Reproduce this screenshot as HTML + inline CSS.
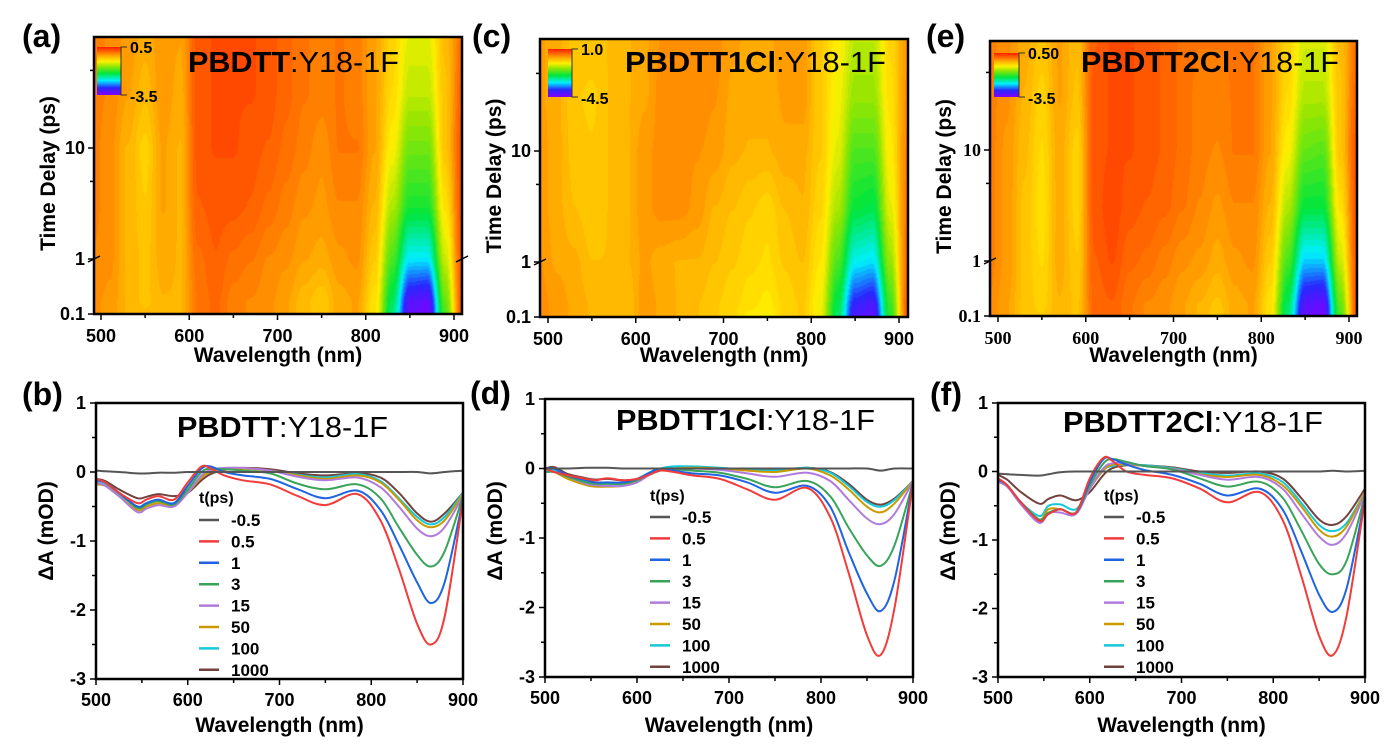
<!DOCTYPE html>
<html><head><meta charset="utf-8">
<style>
html,body{margin:0;padding:0;background:#fff;}
#root{position:relative;width:1385px;height:745px;overflow:hidden;font-family:"Liberation Sans",Arial,sans-serif;}
canvas{position:absolute;}
svg{position:absolute;left:0;top:0;}
</style></head>
<body>
<div id="root">
<canvas id="hmA"></canvas>
<canvas id="hmC"></canvas>
<canvas id="hmE"></canvas>
<svg id="svg" width="1385" height="745" xmlns="http://www.w3.org/2000/svg">
<defs>
<linearGradient id="cbar" x1="0" y1="0" x2="0" y2="1">
<stop offset="0" stop-color="rgb(255,30,0)"/><stop offset="0.12" stop-color="rgb(255,120,0)"/>
<stop offset="0.2" stop-color="rgb(255,180,0)"/><stop offset="0.3" stop-color="rgb(255,240,0)"/>
<stop offset="0.4" stop-color="rgb(150,230,0)"/><stop offset="0.55" stop-color="rgb(0,230,60)"/>
<stop offset="0.7" stop-color="rgb(0,240,255)"/><stop offset="0.85" stop-color="rgb(40,40,255)"/>
<stop offset="1" stop-color="rgb(130,0,255)"/>
</linearGradient>
</defs>
</svg>
</div>
<script>
// ---------- heatmap data ----------
const hmWl=[490,510,530,550,570,590,610,630,650,670,690,710,730,750,770,790,810,830,850,870,890,910];
const hmT=[0.1,0.3,1,3,10,30,100];
const hmValsA=[
[-0.1,-0.15,-0.3,-0.35,-0.3,-0.3,0.05,0.15,0.0,-0.05,-0.1,-0.2,-0.35,-0.45,-0.25,-0.2,-0.6,-1.9,-3.3,-3.4,-1.4,0.3],
[-0.1,-0.15,-0.3,-0.4,-0.3,-0.3,0.05,0.15,0.0,-0.05,-0.1,-0.2,-0.35,-0.45,-0.25,-0.2,-0.6,-1.8,-3.2,-3.3,-1.3,0.3],
[-0.05,-0.1,-0.3,-0.4,-0.25,-0.3,0.1,0.2,0.1,0.05,-0.05,-0.1,-0.2,-0.25,-0.15,-0.1,-0.45,-1.4,-2.3,-2.3,-0.9,0.3],
[0.0,-0.1,-0.3,-0.45,-0.2,-0.3,0.2,0.25,0.25,0.2,0.1,0.0,-0.1,-0.15,-0.05,-0.05,-0.3,-1.0,-1.6,-1.6,-0.6,0.3],
[0.0,-0.1,-0.3,-0.5,-0.2,-0.3,0.25,0.3,0.3,0.25,0.2,0.1,0.0,-0.1,0.05,0.05,-0.2,-0.7,-1.25,-1.25,-0.4,0.3],
[0.0,-0.05,-0.2,-0.35,-0.15,-0.25,0.25,0.3,0.3,0.3,0.25,0.15,0.05,0.0,0.05,0.0,-0.2,-0.55,-0.95,-0.95,-0.4,0.2],
[0.0,-0.05,-0.15,-0.25,-0.15,-0.2,0.25,0.3,0.3,0.3,0.25,0.15,0.05,0.0,0.05,0.0,-0.2,-0.5,-0.8,-0.8,-0.35,0.1]];
const hmValsC=[
[0.2,0.1,0.0,-0.1,-0.2,-0.2,0.1,0.0,-0.1,-0.2,-0.3,-0.4,-0.6,-0.7,-0.4,-0.3,-0.7,-2.2,-4.0,-4.2,-1.8,0.6],
[0.2,0.1,0.0,-0.1,-0.2,-0.2,0.1,0.0,-0.1,-0.2,-0.3,-0.4,-0.5,-0.6,-0.4,-0.3,-0.7,-2.1,-3.8,-4.0,-1.7,0.6],
[0.15,0.0,-0.05,-0.2,-0.2,-0.1,0.05,-0.05,-0.1,-0.1,-0.2,-0.3,-0.4,-0.45,-0.3,-0.2,-0.55,-1.6,-2.8,-2.9,-1.2,0.5],
[0.1,-0.05,-0.2,-0.3,-0.2,-0.1,0.1,0.2,0.2,0.1,-0.1,-0.2,-0.3,-0.4,-0.2,-0.1,-0.4,-1.1,-2.0,-2.1,-0.8,0.4],
[0.1,-0.05,-0.25,-0.3,-0.2,-0.1,0.1,0.2,0.2,0.15,0.1,-0.05,-0.1,-0.1,0.0,-0.05,-0.3,-0.8,-1.6,-1.6,-0.6,0.3],
[0.05,-0.05,-0.3,-0.35,-0.2,-0.1,0.0,0.2,0.2,0.2,0.15,0.0,-0.05,-0.05,0.05,0.1,-0.3,-0.7,-1.2,-1.2,-0.5,0.2],
[0.05,-0.05,-0.25,-0.25,-0.2,-0.1,0.0,0.15,0.2,0.2,0.2,0.05,0.0,0.0,0.1,0.1,-0.3,-0.6,-1.0,-1.0,-0.4,0.1]];
const hmValsE=[
[-0.05,-0.2,-0.4,-0.45,-0.3,-0.4,0.15,0.2,0.05,-0.05,-0.1,-0.2,-0.3,-0.45,-0.25,-0.2,-0.6,-1.9,-3.3,-3.4,-1.4,0.3],
[-0.05,-0.2,-0.4,-0.5,-0.3,-0.4,0.15,0.2,0.05,-0.05,-0.1,-0.2,-0.3,-0.4,-0.25,-0.2,-0.6,-1.8,-3.2,-3.3,-1.3,0.3],
[0.0,-0.15,-0.4,-0.55,-0.25,-0.45,0.2,0.3,0.15,0.1,0.0,-0.1,-0.15,-0.25,-0.15,-0.1,-0.45,-1.4,-2.4,-2.4,-0.9,0.3],
[0.0,-0.15,-0.4,-0.6,-0.25,-0.5,0.25,0.35,0.25,0.2,0.15,0.05,-0.05,-0.15,-0.05,-0.05,-0.3,-1.0,-1.7,-1.7,-0.6,0.3],
[0.0,-0.15,-0.35,-0.55,-0.25,-0.5,0.25,0.3,0.3,0.25,0.2,0.1,0.0,-0.05,0.05,0.05,-0.2,-0.7,-1.3,-1.35,-0.4,0.3],
[0.0,-0.1,-0.3,-0.5,-0.2,-0.4,0.25,0.3,0.3,0.25,0.2,0.1,0.0,0.0,0.05,0.05,-0.2,-0.55,-1.0,-1.0,-0.4,0.2],
[0.0,-0.1,-0.25,-0.4,-0.2,-0.35,0.2,0.3,0.3,0.25,0.2,0.1,0.05,0.05,0.05,0.05,-0.2,-0.5,-0.85,-0.85,-0.35,0.1]];

// ---------- spectra data ----------
const specWl=[500,510,525,545,555,568,585,600,615,625,640,660,690,720,750,785,810,830,850,865,880,900];
const delays=["-0.5","0.5","1","3","15","50","100","1000"];
const specB=[
[0.02,0.01,0.0,-0.02,-0.02,-0.01,-0.01,0.0,0.0,0.0,0.0,0.0,0.0,0.0,0.0,0.0,0.0,0.0,0.0,-0.02,0.0,0.02],
[-0.1,-0.15,-0.3,-0.45,-0.4,-0.35,-0.4,-0.15,0.08,0.05,-0.05,-0.12,-0.18,-0.35,-0.48,-0.32,-0.7,-1.4,-2.2,-2.5,-2.1,-0.4],
[-0.12,-0.15,-0.3,-0.5,-0.45,-0.4,-0.45,-0.2,0.05,0.08,0.0,-0.05,-0.1,-0.25,-0.38,-0.27,-0.55,-1.05,-1.6,-1.9,-1.6,-0.4],
[-0.12,-0.15,-0.3,-0.52,-0.47,-0.42,-0.47,-0.25,0.0,0.05,0.04,0.02,-0.02,-0.17,-0.25,-0.18,-0.38,-0.8,-1.2,-1.37,-1.15,-0.35],
[-0.15,-0.2,-0.35,-0.58,-0.53,-0.48,-0.5,-0.3,-0.05,0.03,0.06,0.06,0.02,-0.07,-0.12,-0.08,-0.22,-0.5,-0.82,-0.93,-0.8,-0.35],
[-0.18,-0.2,-0.35,-0.55,-0.5,-0.45,-0.48,-0.3,-0.08,0.0,0.04,0.05,0.02,-0.05,-0.1,-0.05,-0.15,-0.4,-0.7,-0.8,-0.7,-0.32],
[-0.15,-0.18,-0.32,-0.5,-0.45,-0.42,-0.45,-0.28,-0.06,0.02,0.05,0.05,0.02,-0.04,-0.08,-0.03,-0.13,-0.38,-0.65,-0.76,-0.65,-0.3],
[-0.1,-0.13,-0.25,-0.38,-0.36,-0.32,-0.35,-0.3,-0.12,-0.03,0.03,0.06,0.04,-0.02,-0.05,-0.02,-0.08,-0.3,-0.6,-0.72,-0.6,-0.3]];
const specD=[
[0.0,0.0,0.0,0.01,0.01,0.01,0.0,0.0,0.0,0.0,0.0,0.0,0.0,0.0,0.0,0.0,0.0,0.0,0.0,-0.03,0.0,0.0],
[0.0,-0.05,-0.1,-0.15,-0.17,-0.14,-0.17,-0.15,-0.08,-0.03,-0.05,-0.1,-0.15,-0.3,-0.45,-0.28,-0.7,-1.5,-2.4,-2.68,-2.0,-0.2],
[0.0,0.0,-0.1,-0.17,-0.2,-0.2,-0.2,-0.15,-0.05,0.0,-0.03,-0.07,-0.1,-0.2,-0.35,-0.25,-0.55,-1.2,-1.8,-2.05,-1.6,-0.2],
[-0.05,-0.05,-0.12,-0.2,-0.22,-0.22,-0.22,-0.17,-0.07,-0.02,-0.01,-0.03,-0.06,-0.15,-0.27,-0.18,-0.4,-0.85,-1.25,-1.4,-1.1,-0.2],
[-0.05,-0.05,-0.12,-0.22,-0.24,-0.25,-0.25,-0.2,-0.08,-0.02,0.0,0.0,-0.02,-0.07,-0.12,-0.06,-0.18,-0.45,-0.72,-0.8,-0.65,-0.18],
[-0.05,-0.05,-0.15,-0.24,-0.26,-0.26,-0.25,-0.18,-0.08,-0.02,0.0,0.01,0.0,-0.03,-0.05,0.0,-0.1,-0.3,-0.55,-0.63,-0.5,-0.18],
[0.0,-0.03,-0.12,-0.2,-0.22,-0.22,-0.22,-0.15,-0.05,0.0,0.03,0.03,0.01,-0.02,-0.03,0.01,-0.06,-0.25,-0.48,-0.55,-0.45,-0.18],
[0.0,0.02,-0.08,-0.14,-0.16,-0.15,-0.17,-0.15,-0.08,-0.03,0.0,0.02,0.0,-0.02,-0.03,0.01,-0.05,-0.22,-0.45,-0.52,-0.43,-0.18]];
const specF=[
[-0.03,-0.04,-0.05,-0.06,-0.04,-0.01,0.0,0.0,0.0,0.0,0.0,0.0,0.0,0.0,0.0,0.0,0.0,0.0,0.0,0.01,0.0,0.01],
[-0.1,-0.2,-0.45,-0.72,-0.62,-0.55,-0.6,-0.1,0.2,0.15,0.0,-0.05,-0.1,-0.25,-0.45,-0.3,-0.7,-1.5,-2.4,-2.68,-2.1,-0.4],
[-0.12,-0.2,-0.45,-0.72,-0.62,-0.55,-0.6,-0.15,0.18,0.18,0.1,0.02,-0.05,-0.18,-0.35,-0.25,-0.55,-1.15,-1.8,-2.05,-1.7,-0.4],
[-0.12,-0.2,-0.45,-0.7,-0.6,-0.55,-0.6,-0.2,0.12,0.18,0.14,0.08,0.03,-0.1,-0.22,-0.15,-0.38,-0.85,-1.35,-1.5,-1.3,-0.35],
[-0.15,-0.22,-0.48,-0.75,-0.6,-0.6,-0.62,-0.25,0.05,0.12,0.12,0.08,0.04,-0.05,-0.12,-0.08,-0.25,-0.6,-0.95,-1.07,-0.9,-0.33],
[-0.15,-0.22,-0.45,-0.7,-0.55,-0.55,-0.6,-0.25,0.02,0.1,0.1,0.08,0.04,-0.04,-0.08,-0.05,-0.2,-0.5,-0.85,-0.95,-0.8,-0.3],
[-0.15,-0.22,-0.45,-0.65,-0.5,-0.48,-0.55,-0.25,0.02,0.08,0.1,0.09,0.05,-0.02,-0.06,-0.03,-0.15,-0.45,-0.78,-0.87,-0.75,-0.3],
[-0.05,-0.12,-0.3,-0.47,-0.4,-0.35,-0.42,-0.3,-0.05,0.05,0.09,0.09,0.06,0.0,-0.02,0.0,-0.1,-0.38,-0.7,-0.78,-0.65,-0.25]];
const xTicks=[500,600,700,800,900];
const yTicksSpec=[1,0,-1,-2,-3];
const yTicksHm=[0.1,1,10];
const seriesColors=["#555555","#f23b3b","#1f64e0","#3aa35a","#b07bdc","#c99a00","#14c8d8","#72423e"];

const NS="http://www.w3.org/2000/svg";
const svg=document.getElementById('svg');
function mk(tag,attrs,parent){const e=document.createElementNS(NS,tag);for(const k in attrs)e.setAttribute(k,attrs[k]);(parent||svg).appendChild(e);return e;}
function txt(s,attrs,parent){const e=mk('text',attrs,parent);e.textContent=s;return e;}

// colormap
const cmStops=[[0,[130,0,255]],[0.15,[40,40,255]],[0.3,[0,240,255]],[0.45,[0,230,60]],[0.6,[150,230,0]],[0.7,[255,240,0]],[0.8,[255,180,0]],[0.88,[255,125,0]],[1,[255,45,0]]];
function cmap(t){t=Math.max(0,Math.min(1,t));t=Math.round(t*48)/48;
 for(let i=1;i<cmStops.length;i++){if(t<=cmStops[i][0]){const a=cmStops[i-1],b=cmStops[i];const f=(t-a[0])/(b[0]-a[0]);return [0,1,2].map(k=>a[1][k]+(b[1][k]-a[1][k])*f);}}
 return cmStops[cmStops.length-1][1];}

function linScale(d0,d1,r0,r1){return v=>r0+(v-d0)*(r1-r0)/(d1-d0);}

// ---------- heatmap panels ----------
const hmPanels=[
 {id:'hmA',vals:hmValsA,box:[94,37,462,314],x:[101,454],y01:314,y1:259,y10:148,min:-3.5,max:0.5,cb:[97,47,121,95],cbl:['0.5','-3.5'],label:'(a)',lx:22,pre:'PBDTT',tx:188,tw:211,serif:false,name:'a'},
 {id:'hmC',vals:hmValsC,box:[540,39,908,317],x:[548,899],y01:317,y1:262,y10:151,min:-4.5,max:1.0,cb:[548,49,572,97],cbl:['1.0','-4.5'],label:'(c)',lx:472,pre:'PBDTT1Cl',tx:625,tw:261,serif:false,name:'c'},
 {id:'hmE',vals:hmValsE,box:[990,41,1357,316],x:[998,1349],y01:316,y1:261,y10:150,min:-3.5,max:0.5,cb:[994,53,1019,97],cbl:['0.50','-3.5'],label:'(e)',lx:926,pre:'PBDTT2Cl',tx:1081,tw:258,serif:true,name:'e'}];

hmPanels.forEach(p=>{
 const [L,T,R,B]=p.box,w=R-L,h=B-T;
 const xs=linScale(500,900,p.x[0],p.x[1]);
 const xinv=linScale(p.x[0],p.x[1],500,900);
 const ys=t=>t<=1?p.y01+(t-0.1)/0.9*(p.y1-p.y01):p.y1-Math.log10(t)*(p.y1-p.y10);
 const rowY=hmT.map(ys);
 const cv=document.getElementById(p.id);cv.width=w;cv.height=h;cv.style.left=L+'px';cv.style.top=T+'px';
 const ctx=cv.getContext('2d');const img=ctx.createImageData(w,h);
 for(let px=0;px<w;px++){
  const wl=xinv(L+px+0.5);let ci=0;while(ci<hmWl.length-2&&wl>hmWl[ci+1])ci++;
  let cf=(wl-hmWl[ci])/(hmWl[ci+1]-hmWl[ci]);cf=Math.max(0,Math.min(1,cf));
  cf=cf*cf*(3-2*cf);
  for(let py=0;py<h;py++){
   const Y=T+py+0.5;let ri=0;while(ri<rowY.length-2&&Y<rowY[ri+1])ri++;
   let rf=(rowY[ri]-Y)/(rowY[ri]-rowY[ri+1]);rf=Math.max(0,Math.min(1,rf));
   const v0=p.vals[ri][ci]*(1-cf)+p.vals[ri][ci+1]*cf;
   const v1=p.vals[ri+1][ci]*(1-cf)+p.vals[ri+1][ci+1]*cf;
   const v=v0*(1-rf)+v1*rf;
   const c=cmap((v-p.min)/(p.max-p.min));const o=(py*w+px)*4;
   img.data[o]=c[0];img.data[o+1]=c[1];img.data[o+2]=c[2];img.data[o+3]=255;}
 }
 ctx.putImageData(img,0,0);
 const g=mk('g',{});
 
 
 const fam=p.serif?'"Liberation Serif",serif':'"Liberation Sans",sans-serif';
 mk('rect',{x:L,y:T,width:w,height:h,fill:'none',stroke:'#000','stroke-width':2.5},g);
 for(let v=500;v<=900;v+=50){const X=xs(v);mk('line',{x1:X,x2:X,y1:B,y2:B+(v%100?4:6),stroke:'#000','stroke-width':1.5},g);}
 xTicks.forEach(v=>{const t=txt(String(v),{x:xs(v),y:B+28,'text-anchor':'middle','font-size':18,'font-weight':'bold','font-family':fam},g);
  });
 [0.1,1,5,10,50].forEach(v=>{const Y=ys(v);mk('line',{x1:L-(v==5||v==50?4:6),x2:L,y1:Y,y2:Y,stroke:'#000','stroke-width':1.5},g);});
 yTicksHm.forEach(v=>{const t=txt(String(v),{x:L-9,y:ys(v)+6,'text-anchor':'end','font-size':18,'font-weight':'bold','font-family':fam},g);
  });
 mk('line',{x1:L-6,x2:L+6,y1:p.y1+3,y2:p.y1-3,stroke:'#000','stroke-width':1.5},g);
 if(p.name==='a')mk('line',{x1:R-6,x2:R+6,y1:p.y1+3,y2:p.y1-3,stroke:'#000','stroke-width':1.5},g);
 const xt=txt('Wavelength (nm)',{x:(L+R)/2,y:362,'text-anchor':'middle','font-size':21,'font-weight':'bold'},g);
 
 const cx=L-46,cy=(T+B)/2-2;
 const yt=txt('Time Delay (ps)',{x:cx,y:cy,'text-anchor':'middle','font-size':21,'font-weight':'bold',transform:`rotate(-90 ${cx} ${cy}) translate(0 7)`},g);
 
 const [cx0,cy0,cx1,cy1]=p.cb;
 const cbr=mk('rect',{x:cx0,y:cy0,width:cx1-cx0,height:cy1-cy0,fill:'url(#cbar)'},g);
 
 mk('path',{d:`M${cx1+6},${cy0}H${cx1}V${cy1}H${cx1+6}`,fill:'none',stroke:'#333','stroke-width':1},g);
 txt(p.cbl[0],{x:cx1+9,y:cy0+6,'font-size':16,'font-weight':'bold'},g);
 txt(p.cbl[1],{x:cx1+9,y:cy1+7,'font-size':16,'font-weight':'bold'},g);
 const tt=txt('',{x:p.tx,y:72,'font-size':29,textLength:p.tw,lengthAdjust:'spacingAndGlyphs'},g);
 
 const s1=mk('tspan',{'font-weight':'bold'},tt);s1.textContent=p.pre;const s2=mk('tspan',{},tt);s2.textContent=':Y18-1F';
 const pl=txt(p.label,{x:p.lx,y:47,'font-size':32,'font-weight':'bold'},g);
 
});

// ---------- spectra panels ----------
const spPanels=[
 {data:specB,box:[96,403,463,679],label:'(b)',lx:22,ly:405,pre:'PBDTT',tx:177,tw:211,ty:437,leg:[199,503,520],name:'b'},
 {data:specD,box:[545,399,913,677],label:'(d)',lx:470,ly:404,pre:'PBDTT1Cl',tx:616,tw:259,ty:430,leg:[650,501,517],name:'d'},
 {data:specF,box:[998,403,1365,677],label:'(f)',lx:930,ly:405,pre:'PBDTT2Cl',tx:1063,tw:260,ty:432,leg:[1104,501,517],name:'f'}];

function crPath(pts){let d=`M${pts[0][0].toFixed(1)},${pts[0][1].toFixed(1)}`;
 for(let i=0;i<pts.length-1;i++){const p0=pts[Math.max(0,i-1)],p1=pts[i],p2=pts[i+1],p3=pts[Math.min(pts.length-1,i+2)];
  const c1=[p1[0]+(p2[0]-p0[0])/6,p1[1]+(p2[1]-p0[1])/6],c2=[p2[0]-(p3[0]-p1[0])/6,p2[1]-(p3[1]-p1[1])/6];
  d+=`C${c1[0].toFixed(1)},${c1[1].toFixed(1)} ${c2[0].toFixed(1)},${c2[1].toFixed(1)} ${p2[0].toFixed(1)},${p2[1].toFixed(1)}`;}
 return d;}

spPanels.forEach(p=>{
 const [L,T,R,B]=p.box;
 const xs=linScale(500,900,L,R),ys=linScale(1,-3,T,B);
 const g=mk('g',{});
 
 
 const clipId='clip'+p.name;const cp=mk('clipPath',{id:clipId},g);mk('rect',{x:L,y:T,width:R-L,height:B-T},cp);
 for(let s=p.data.length-1;s>=0;s--){
  const pts=specWl.map((w,i)=>[xs(w),ys(p.data[s][i])]);
  const path=mk('path',{d:crPath(pts),fill:'none',stroke:seriesColors[s],'stroke-width':2,'clip-path':`url(#${clipId})`},g);
  
  
 }
 mk('rect',{x:L,y:T,width:R-L,height:B-T,fill:'none',stroke:'#000','stroke-width':2.5},g);
 for(let v=500;v<=900;v+=50){const X=xs(v);mk('line',{x1:X,x2:X,y1:B,y2:B+(v%100?4:6),stroke:'#000','stroke-width':1.5},g);}
 xTicks.forEach(v=>{const t=txt(String(v),{x:xs(v),y:B+27,'text-anchor':'middle','font-size':18,'font-weight':'bold'},g);
  });
 for(let v=1;v>=-3;v-=0.5){const Y=ys(v);mk('line',{x1:L-(Number.isInteger(v)?6:4),x2:L,y1:Y,y2:Y,stroke:'#000','stroke-width':1.5},g);}
 yTicksSpec.forEach(v=>{const t=txt(String(v),{x:L-10,y:ys(v)+6,'text-anchor':'end','font-size':18,'font-weight':'bold'},g);
  });
 const xt=txt('Wavelength (nm)',{x:(L+R)/2,y:732,'text-anchor':'middle','font-size':21,'font-weight':'bold'},g);
 
 const cx=L-50,cy=531;
 const yt=txt('ΔA (mOD)',{x:cx,y:cy,'text-anchor':'middle','font-size':21,'font-weight':'bold',transform:`rotate(-90 ${cx} ${cy}) translate(0 7)`},g);
 
 const tt=txt('',{x:p.tx,y:p.ty,'font-size':29,textLength:p.tw,lengthAdjust:'spacingAndGlyphs'},g);
 
 const s1=mk('tspan',{'font-weight':'bold'},tt);s1.textContent=p.pre;const s2=mk('tspan',{},tt);s2.textContent=':Y18-1F';
 const pl=txt(p.label,{x:p.lx,y:p.ly,'font-size':32,'font-weight':'bold'},g);
 
 const [lx,ty,ry]=p.leg;
 const lg=mk('g',{},g);
 
 
 txt('t(ps)',{x:lx,y:ty,'font-size':16,'font-weight':'bold'},lg);
 delays.forEach((d,i)=>{const Y=ry+i*21.4;
  const e=mk('g',{},lg);
  
  
  mk('line',{x1:lx,x2:lx+20,y1:Y,y2:Y,stroke:seriesColors[i],'stroke-width':2.5},e);
  txt(d,{x:lx+32,y:Y+6,'font-size':17,'font-weight':'bold'},e);});
});
</script>
</body></html>
